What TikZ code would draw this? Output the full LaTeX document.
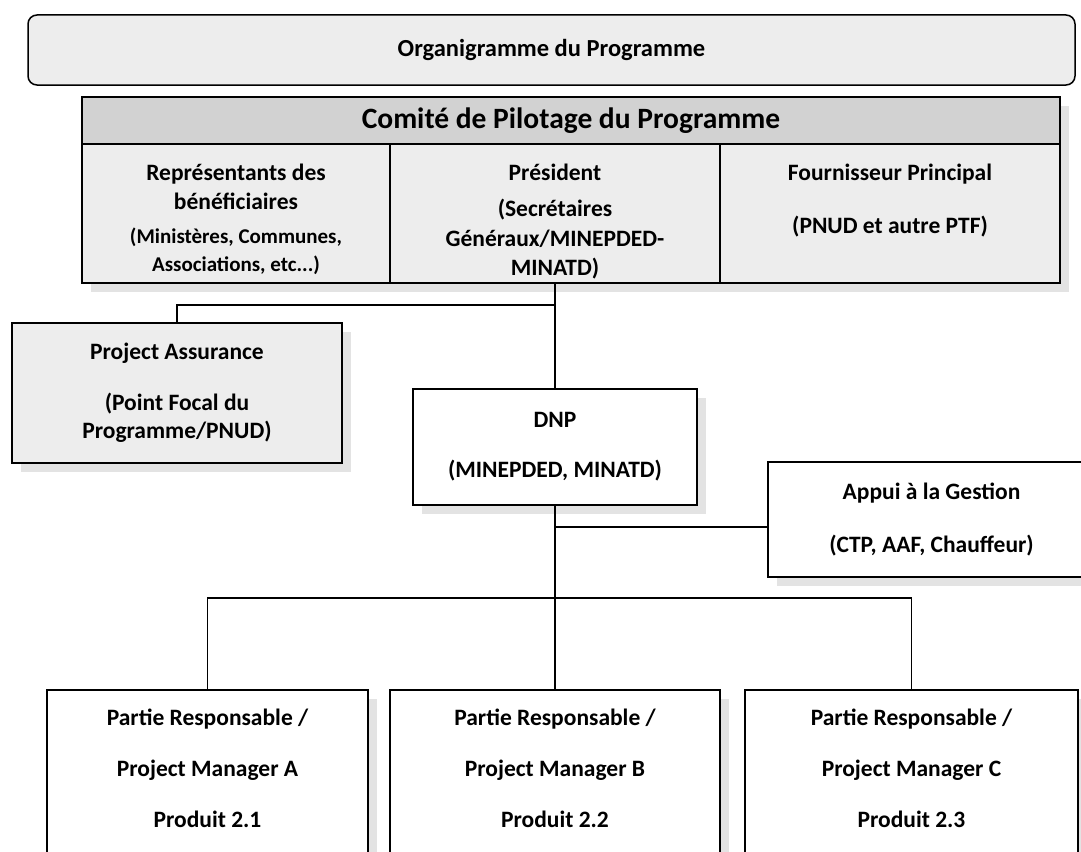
\documentclass[tikz,border=0pt]{standalone}
\usepackage{fontspec}
\setmainfont{Carlito}
\usetikzlibrary{shadows}
\newcommand{\petit}{\fontsize{21}{26}\selectfont}
\begin{document}
\begin{tikzpicture}[x=1pt,y=-1pt,
    boite/.style={draw, line width=1.5pt, inner sep=0pt, align=center,
      font=\bfseries\fontsize{23.5}{28}\selectfont},
    celltexte/.style={align=center, inner sep=0pt,
      font=\bfseries\fontsize{23.5}{28}\selectfont},
    ombre/.style={drop shadow={shadow xshift=9pt, shadow yshift=-9pt,
      fill=gray!22, opacity=1}},
    trame/.style={fill=gray!14},
    lien/.style={line width=1.2pt}]
  \useasboundingbox (0,0) rectangle (1081,851);
  \clip (0,0) rectangle (1081,851);
  % titre et comite
  \node[boite, trame, rounded corners=9pt, minimum width=1047, minimum height=70,
    font=\bfseries\fontsize{24.5}{28}\selectfont] (titre) at (551.5,50) {Organigramme du Programme};
  \node[boite, ombre, fill=gray!35, minimum width=978, minimum height=47,
    font=\bfseries\fontsize{29.5}{32}\selectfont] (comite) at (571,120.5) {Comité de Pilotage du Programme};
  \node[boite, ombre, trame, minimum width=308, minimum height=139,
    label={[celltexte, yshift=-6pt]center:{Représentants des\\[1pt]bénéficiaires\\[6pt]%
      \petit (Ministères, Communes,\\\petit Associations, etc...)}}]
    (benef) at (236,213.5) {};
  \node[boite, ombre, trame, minimum width=330, minimum height=139,
    label={[celltexte, yshift=-8pt]center:{Président\\[8pt](Secrétaires\\[2pt]Généraux/MINEPDED-\\[1pt]MINATD)}}]
    (pres) at (555,213.5) {};
  \node[boite, ombre, trame, minimum width=340, minimum height=139,
    label={[celltexte, yshift=13pt]center:{Fournisseur Principal\\[25pt](PNUD et autre PTF)}}]
    (fourn) at (890,213.5) {};
  % autres boites
  \node[boite, ombre, trame, minimum width=330, minimum height=140] (assur) at (177,393)
    {Project Assurance\\[23pt](Point Focal du\\Programme/PNUD)};
  \node[boite, ombre, fill=white, minimum width=284, minimum height=116] (dnp) at (555,447)
    {DNP\\[22pt](MINEPDED, MINATD)};
  \node[boite, ombre, fill=white, minimum width=327, minimum height=115] (appui) at (931.5,519.5)
    {Appui à la Gestion\\[25pt](CTP, AAF, Chauffeur)};
  \node[boite, ombre, fill=white, minimum width=321, minimum height=180,
    label={[celltexte, yshift=12pt, font=\bfseries\fontsize{23.5}{51}\selectfont]center:{Partie Responsable /\\Project Manager A\\Produit 2.1}}]
    (prodA) at (207.5,780) {};
  \node[boite, ombre, fill=white, minimum width=330, minimum height=180,
    label={[celltexte, yshift=12pt, font=\bfseries\fontsize{23.5}{51}\selectfont]center:{Partie Responsable /\\Project Manager B\\Produit 2.2}}]
    (prodB) at (555,780) {};
  \node[boite, ombre, fill=white, minimum width=333, minimum height=180,
    label={[celltexte, yshift=12pt, font=\bfseries\fontsize{23.5}{51}\selectfont]center:{Partie Responsable /\\Project Manager C\\Produit 2.3}}]
    (prodC) at (911.5,780) {};
  \coordinate (brA) at (555,305);
  \coordinate (brB) at (555,527);
  \coordinate (brC) at (555,598);
  % liens
  \begin{scope}[lien]
    \draw (pres.south) to (dnp.north);
    \draw (brA) -| (assur.north);
    \draw (dnp.south) to (brC);
    \draw (brB) to (appui.west |- brB);
    \draw (brC) -| (prodA.north);
    \draw (brC) to (prodB.north);
    \draw (brC) -| (prodC.north);
  \end{scope}
\end{tikzpicture}
\end{document}
